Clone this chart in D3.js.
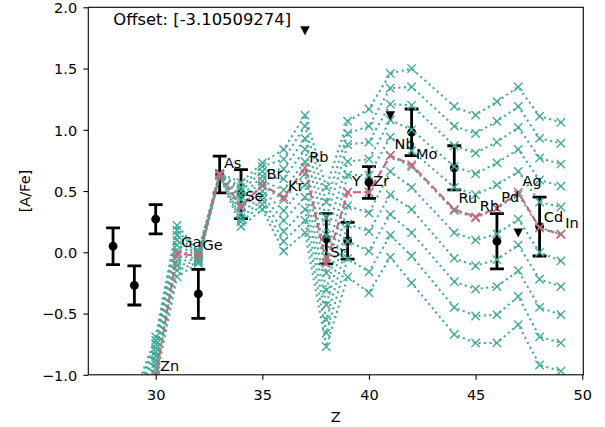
<!DOCTYPE html>
<html>
<head>
<meta charset="utf-8">
<script src="https://cdn.jsdelivr.net/npm/d3@7"></script>
<style>
  html, body { margin: 0; padding: 0; background: #fff; }
  svg { display: block; font-family: "DejaVu Sans", sans-serif; }
</style>
</head>
<body>
<svg id="chart" width="605" height="427"></svg>
<script>
// Element labels and their atomic numbers (Tc is not included)
const elements = ["Zn","Ga","Ge","As","Se","Br","Kr","Rb","Sr","Y","Zr","Nb","Mo","Ru","Rh","Pd","Ag","Cd","In"];
const elementZ = [30,31,32,33,34,35,36,37,38,39,40,41,42,44,45,46,47,48,49];

// Best-fitting model pattern
const bestFit = [-1.02,-0.01,-0.03,0.64,0.37,0.55,0.45,0.69,-0.09,0.49,0.49,0.79,0.715,0.35,0.29,0.36,0.49,0.20,0.145];

// Model grid, evaluated at Cu followed by the elements above
const gridZ = [29,30,31,32,33,34,35,36,37,38,39,40,41,42,44,45,46,47,48,49];
const gridModel0  = [-1.16,-0.69, 0.22, 0.01,0.645,0.57,0.73,0.84,1.12, 0.53, 1.07, 1.17, 1.46, 1.50, 1.19, 1.12, 1.23, 1.35, 1.11, 1.06];
const gridModel1  = [-1.20,-0.72, 0.18, 0.00,0.643,0.53,0.70,0.76,1.03, 0.41, 0.97, 1.03, 1.34, 1.35, 1.03, 0.97, 1.07, 1.19, 0.93, 0.89];
const gridModel2  = [-1.25,-0.75, 0.14,-0.01,0.641,0.50,0.66,0.68,0.93, 0.28, 0.88, 0.90, 1.21, 1.20, 0.87, 0.81, 0.90, 1.02, 0.77, 0.72];
const gridModel3  = [-1.30,-0.78, 0.10,-0.02,0.639,0.46,0.62,0.60,0.84, 0.14, 0.74, 0.76, 1.08, 1.00, 0.70, 0.64, 0.73, 0.84, 0.59, 0.54];
const gridModel4  = [-1.35,-0.81, 0.06,-0.03,0.637,0.43,0.58,0.51,0.74,-0.04, 0.63, 0.63, 0.94, 0.83, 0.53, 0.47, 0.55, 0.66, 0.41, 0.37];
const gridModel5  = [-1.40,-0.85, 0.02,-0.04,0.635,0.39,0.54,0.43,0.64,-0.17, 0.49, 0.49, 0.79, 0.70, 0.34, 0.28, 0.36, 0.47, 0.20, 0.15];
const gridModel6  = [-1.45,-0.88,-0.03,-0.05,0.633,0.36,0.50,0.34,0.55,-0.31, 0.38, 0.32, 0.66, 0.53, 0.16, 0.10, 0.15, 0.27, 0.00,-0.07];
const gridModel7  = [-1.50,-0.91,-0.07,-0.06,0.631,0.32,0.46,0.26,0.45,-0.43, 0.23, 0.17, 0.47, 0.35,-0.05,-0.11,-0.06, 0.06,-0.22,-0.28];
const gridModel8  = [-1.55,-0.95,-0.11,-0.07,0.629,0.28,0.43,0.17,0.35,-0.55, 0.09, 0.01, 0.31, 0.16,-0.24,-0.30,-0.28,-0.15,-0.45,-0.51];
const gridModel9  = [-1.60,-1.00,-0.15,-0.08,0.627,0.25,0.39,0.09,0.26,-0.66,-0.05,-0.16, 0.14,-0.03,-0.45,-0.52,-0.51,-0.36,-0.69,-0.74];
const gridModel10 = [-1.70,-1.05,-0.20,-0.09,0.625,0.21,0.35,0.01,0.16,-0.77,-0.20,-0.33,-0.04,-0.25,-0.67,-0.74,-0.74,-0.59,-0.92,-0.97];
const gridModels = [gridModel0,gridModel1,gridModel2,gridModel3,gridModel4,gridModel5,
                    gridModel6,gridModel7,gridModel8,gridModel9,gridModel10];

// Observed abundances with uncertainties
const obsZ   = [28,29,30,32,33,34,38,39,40,42,44,46,48];
const obsVal = [0.05,-0.27,0.27,-0.34,0.635,0.475,0.11,0.095,0.57,0.98,0.69,0.09,0.21];
const obsErr = [0.15,0.16,0.12,0.20,0.15,0.20,0.205,0.15,0.13,0.19,0.18,0.225,0.24];

// Upper limits
const limZ   = [37,41,47];
const limVal = [1.81,1.116,0.158];

const xTicks = [30,35,40,45,50];
const yTicks = [-1.0,-0.5,0.0,0.5,1.0,1.5,2.0];
const offsetText = "Offset: [-3.10509274]";

const TEAL = "#44AA99", ROSE = "#CC6677";
const FS = 14.5;
const plotLeft = 88.3, plotRight = 583.3, plotTop = 7.3, plotBottom = 374.8;

const svg = d3.select("#chart");
const x = d3.scaleLinear().domain([26.84, 50.05]).range([plotLeft, plotRight]);
const y = d3.scaleLinear().domain([-1, 2]).range([plotBottom, plotTop]);

svg.append("defs").append("clipPath").attr("id", "plotclip")
  .append("rect").attr("x", plotLeft).attr("y", plotTop)
  .attr("width", plotRight - plotLeft).attr("height", plotBottom - plotTop);

const plot = svg.append("g").attr("clip-path", "url(#plotclip)");

function crossPath(s) {
  return `M${-s},${-s}L${s},${s}M${-s},${s}L${s},${-s}`;
}

// Error bars and observed points
const obs = obsZ.map((z, i) => ({z, v: obsVal[i], e: obsErr[i]}));
const eb = plot.append("g");
eb.selectAll("line.bar").data(obs).join("line")
  .attr("x1", d => x(d.z)).attr("x2", d => x(d.z))
  .attr("y1", d => y(d.v - d.e)).attr("y2", d => y(d.v + d.e))
  .attr("stroke", "#000").attr("stroke-width", 2.8);
["lo","hi"].forEach(k => {
  eb.append("g").selectAll("line").data(obs).join("line")
    .attr("x1", d => x(d.z) - 6.95).attr("x2", d => x(d.z) + 6.95)
    .attr("y1", d => y(k === "lo" ? d.v - d.e : d.v + d.e))
    .attr("y2", d => y(k === "lo" ? d.v - d.e : d.v + d.e))
    .attr("stroke", "#000").attr("stroke-width", 2.8);
});
eb.append("g").selectAll("circle").data(obs).join("circle")
  .attr("cx", d => x(d.z)).attr("cy", d => y(d.v)).attr("r", 4.4).attr("fill", "#000");

// Model grid: dotted lines with x markers
const line = d3.line().x(d => x(d[0])).y(d => y(d[1]));
gridModels.forEach(m => {
  const pts = gridZ.map((z, i) => [z, m[i]]);
  plot.append("path").datum(pts).attr("d", line)
    .attr("fill", "none").attr("stroke", TEAL).attr("stroke-width", 2.08)
    .attr("stroke-dasharray", "2.08,3.44");
  plot.append("g").selectAll("path").data(pts).join("path")
    .attr("transform", d => `translate(${x(d[0])},${y(d[1])})`)
    .attr("d", crossPath(4.17)).attr("stroke", TEAL).attr("stroke-width", 1.39).attr("fill", "none");
});

// Best fit: dashed line with x markers
const fitPts = elementZ.map((z, i) => [z, bestFit[i]]);
plot.append("path").datum(fitPts).attr("d", line)
  .attr("fill", "none").attr("stroke", ROSE).attr("stroke-width", 2.08)
  .attr("stroke-dasharray", "7.7,3.33");
plot.append("g").selectAll("path").data(fitPts).join("path")
  .attr("transform", d => `translate(${x(d[0])},${y(d[1])})`)
  .attr("d", crossPath(4.17)).attr("stroke", ROSE).attr("stroke-width", 1.39).attr("fill", "none");

// Upper limits
plot.append("g").selectAll("path").data(limZ.map((z, i) => [z, limVal[i]])).join("path")
  .attr("transform", d => `translate(${x(d[0])},${y(d[1])})`)
  .attr("d", "M-4.8,-4.4L4.8,-4.4L0,4.6Z").attr("fill", "#000");

// Element names next to the best-fit points
svg.append("g").selectAll("text").data(elements).join("text")
  .attr("x", (d, i) => x(elementZ[i] + 0.2))
  .attr("y", (d, i) => y(bestFit[i] + 0.05))
  .attr("font-size", FS).attr("fill", "#000")
  .text(d => d);

// Axes
const xAxis = svg.append("g").attr("transform", `translate(0,${plotBottom})`)
  .call(d3.axisBottom(x).tickValues(xTicks).tickFormat(d3.format("d")).tickSize(4.9).tickSizeOuter(0));
xAxis.select(".domain").remove();
xAxis.selectAll(".tick line").attr("stroke-width", 1.1);
xAxis.selectAll(".tick text").attr("y", 25.3).attr("dy", null)
  .attr("font-size", FS).attr("font-family", "DejaVu Sans").attr("fill", "#000");

const yAxis = svg.append("g").attr("transform", `translate(${plotLeft},0)`)
  .call(d3.axisLeft(y).tickValues(yTicks).tickFormat(d3.format(".1f")).tickSize(4.9).tickPadding(6.3).tickSizeOuter(0));
yAxis.select(".domain").remove();
yAxis.selectAll(".tick line").attr("stroke-width", 1.1);
yAxis.selectAll(".tick text").attr("dy", "0.36em")
  .attr("font-size", FS).attr("font-family", "DejaVu Sans").attr("fill", "#000");

svg.append("rect").attr("x", plotLeft).attr("y", plotTop)
  .attr("width", plotRight - plotLeft).attr("height", plotBottom - plotTop)
  .attr("fill", "none").attr("stroke", "#000").attr("stroke-width", 1.1);

svg.append("text").attr("x", (plotLeft + plotRight) / 2).attr("y", 421.7)
  .attr("text-anchor", "middle").attr("font-size", FS).text("Z");
svg.append("text").attr("transform", `translate(30,${(plotTop + plotBottom) / 2}) rotate(-90)`)
  .attr("text-anchor", "middle").attr("font-size", FS).text("[A/Fe]");

svg.append("text").attr("x", 113.3).attr("y", 25.2)
  .attr("font-size", 16.4).text(offsetText);
</script>
</body>
</html>
